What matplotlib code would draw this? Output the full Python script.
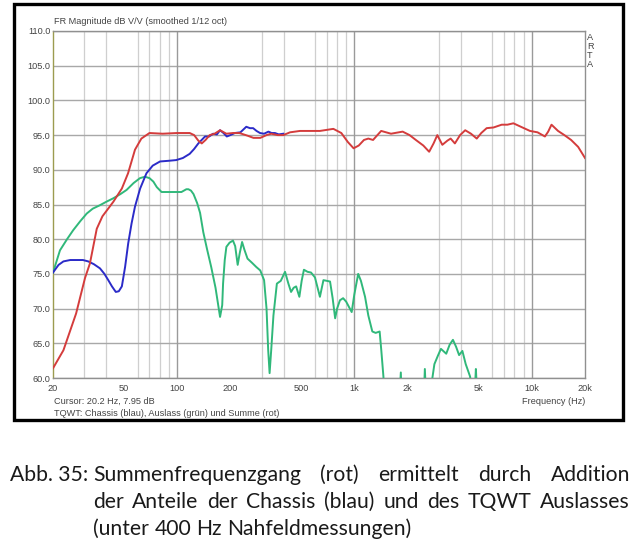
import numpy as np
import matplotlib
matplotlib.use("Agg")
import matplotlib.pyplot as plt
from matplotlib.patches import Rectangle
from matplotlib.ticker import FixedLocator, NullFormatter, FixedFormatter

# ---------------- data ----------------
sum_freq = [20, 22.9, 27, 30.3, 32.3, 35.3, 38, 43.8, 48.9, 53, 58, 63, 70, 83, 100, 118, 125, 132,
            138, 145, 153, 163, 175, 190, 207, 225, 251, 270, 295, 320, 340, 370, 398, 434, 494,
            560, 640, 762, 845, 920, 991, 1060, 1134, 1200, 1276, 1350, 1418, 1611, 1874, 2050,
            2224, 2450, 2644, 2800, 2939, 3137, 3350, 3494, 3692, 3950, 4222, 4550, 4905, 5200,
            5578, 6100, 6783, 7300, 7893, 8700, 9792, 10800, 11887, 12400, 12945, 14092, 15300,
            16700, 18300, 20000]
sum_db = [61.4, 64.0, 69.3, 74.4, 76.5, 81.5, 83.3, 85.4, 87.3, 89.5, 92.9, 94.5, 95.3, 95.2, 95.3,
          95.3, 95.0, 94.2, 93.8, 94.3, 95.0, 95.2, 95.7, 95.2, 95.3, 95.3, 94.9, 94.6, 94.6, 95.0,
          95.2, 95.0, 95.0, 95.4, 95.6, 95.6, 95.6, 95.9, 95.3, 94.0, 93.1, 93.5, 94.3, 94.5, 94.3,
          95.0, 95.6, 95.2, 95.5, 95.0, 94.3, 93.5, 92.6, 93.8, 95.0, 93.6, 94.2, 94.5, 93.8, 95.0,
          95.7, 95.2, 94.5, 95.3, 96.0, 96.1, 96.5, 96.5, 96.7, 96.2, 95.6, 95.4, 94.8, 95.5, 96.5,
          95.6, 95.0, 94.3, 93.3, 91.7]

chassis_freq = [20, 21.5, 22.9, 25, 27.2, 29.5, 31.6, 34, 36.8, 39, 41, 43, 45.2, 47, 48.9, 51, 53.1,
                55.5, 58, 62, 67.3, 73, 80.3, 90, 99, 108, 118, 125, 132, 144, 152, 160, 168, 175,
                183, 191, 200, 212, 228, 246, 258, 269, 281, 294, 310, 328, 342, 357, 375, 398]
chassis_db = [75.2, 76.3, 76.8, 77.0, 77.0, 77.0, 76.8, 76.4, 75.8, 75.0, 74.1, 73.2, 72.4, 72.5, 73.2,
              76.0, 79.4, 82.3, 84.7, 87.3, 89.5, 90.6, 91.2, 91.3, 91.4, 91.7, 92.3, 93.0, 93.8, 94.8,
              94.8, 95.2, 95.1, 95.7, 95.3, 94.8, 95.0, 95.3, 95.4, 96.2, 96.0, 96.0, 95.6, 95.3, 95.2,
              95.5, 95.3, 95.3, 95.1, 95.2]

port_freq = [20, 21.9, 24, 26, 28.5, 31, 33.5, 36.8, 40, 43.8, 48, 52, 57, 61.9, 66, 70, 73.6, 77,
             81.9, 90, 99, 106, 113, 116, 120, 124, 130, 135, 140.8, 148, 156, 165, 175, 180, 182,
             186, 190, 198, 207, 213, 220, 226, 233, 240, 250, 265, 280, 295, 310, 320, 327, 333,
             340, 350, 366, 385, 407, 425, 440, 455, 470, 490, 505, 520, 545, 570, 600, 640, 670,
             700, 730, 755, 780, 800, 830, 865, 900, 935, 967, 1000, 1052, 1090, 1150, 1200, 1264,
             1320, 1390, 1420, 1460, 1490, 1780, 1830, 1860, 2450, 2500, 2560, 2650, 2830, 2960,
             3080, 3300, 3450, 3600, 3750, 3900, 4070, 4250, 4500, 4650, 4800, 4850, 4920, 5000]
port_db = [75.2, 78.4, 80.0, 81.3, 82.6, 83.7, 84.4, 84.9, 85.4, 85.9, 86.5, 87.1, 88.1, 88.8, 89.0,
           88.8, 88.3, 87.5, 86.8, 86.8, 86.8, 86.8, 87.2, 87.2, 87.0, 86.5, 85.2, 83.8, 81.0, 78.5,
           76.0, 73.0, 68.8, 70.5, 73.6, 77.0, 78.9, 79.5, 79.8, 79.0, 76.3, 78.0, 79.6, 78.5, 77.2,
           76.6, 76.0, 75.5, 74.1, 70.0, 64.0, 60.7, 64.0, 69.0, 73.6, 74.0, 75.3, 73.6, 72.4, 73.0,
           73.2, 71.7, 74.0, 75.6, 75.3, 75.2, 74.5, 71.7, 74.1, 74.0, 73.9, 71.5, 68.6, 70.0, 71.2,
           71.5, 71.0, 70.2, 69.5, 72.0, 75.0, 74.0, 71.7, 69.0, 66.7, 66.5, 66.7, 64.0, 60.2, 55.0,
           55.0, 60.8, 55.0, 55.0, 61.3, 55.0, 57.0, 62.0, 63.2, 64.2, 63.5, 64.8, 65.5, 64.5, 63.3,
           63.9, 62.0, 60.2, 56.0, 59.0, 61.3, 58.0, 55.0]

x_label_ticks = [20, 50, 100, 200, 500, 1000, 2000, 5000, 10000, 20000]
x_label_text = ["20", "50", "100", "200", "500", "1k", "2k", "5k", "10k", "20k"]
decades = [100, 1000, 10000]
y_ticks = [60, 65, 70, 75, 80, 85, 90, 95, 100, 105, 110]

title_text = "FR Magnitude dB V/V (smoothed 1/12 oct)"
cursor_text = "Cursor: 20.2 Hz, 7.95 dB"
legend_text = "TQWT: Chassis (blau), Auslass (grün) und Summe (rot)"
xlabel_text = "Frequency (Hz)"
caption_label = "Abb. 35:"
caption_lines = ["Summenfrequenzgang (rot) ermittelt durch Addition",
                 "der Anteile der Chassis (blau) und des TQWT Auslasses",
                 "(unter 400 Hz Nahfeldmessungen)"]

# ---------------- figure ----------------
W, H = 640, 547
fig = plt.figure(figsize=(W / 100, H / 100), dpi=100)
fig.patch.set_facecolor("white")

def fx(px):
    return px / W

def fy(py):
    return 1 - py / H

# outer frame
fig.patches.append(Rectangle((fx(14), fy(420)), fx(623) - fx(14), fy(4) - fy(420),
                             transform=fig.transFigure, fill=False, edgecolor="black",
                             linewidth=2.4))

ax_l, ax_r, ax_t, ax_b = 53, 585, 31, 378
ax = fig.add_axes([fx(ax_l), fy(ax_b), fx(ax_r) - fx(ax_l), fy(ax_t) - fy(ax_b)])
ax.set_xscale("log")
ax.set_xlim(20, 20000)
ax.set_ylim(60, 110)

chart_font = "Liberation Sans"
cfs = 6.6

# grid
minor = [m * 10 ** e for e in range(1, 5) for m in range(1, 10) if 20 <= m * 10 ** e <= 20000]
ax.xaxis.set_minor_locator(FixedLocator(minor))
ax.xaxis.set_minor_formatter(NullFormatter())
ax.xaxis.set_major_locator(FixedLocator(x_label_ticks))
ax.xaxis.set_major_formatter(FixedFormatter(x_label_text))
ax.grid(True, which="minor", axis="x", color="#cfcfcf", linewidth=0.9)
ax.grid(False, which="major", axis="x")
for d in decades:
    ax.axvline(d, color="#9a9a9a", linewidth=1.0, zorder=0.6)
ax.set_yticks(y_ticks)
ax.set_yticklabels([f"{v:.1f}" for v in y_ticks])
ax.grid(True, which="major", axis="y", color="#a8a8a8", linewidth=1.0)
ax.set_axisbelow(True)

ax.tick_params(axis="both", which="both", length=0, labelsize=cfs, labelcolor="#444444")
ax.tick_params(axis="y", pad=2)
ax.tick_params(axis="x", pad=4)
for lab in ax.get_xticklabels() + ax.get_yticklabels():
    lab.set_family(chart_font)

for s in ["top", "right", "bottom"]:
    ax.spines[s].set_color("#909090")
    ax.spines[s].set_linewidth(1.0)
ax.spines["left"].set_color("#9c9c50")
ax.spines["left"].set_linewidth(1.0)

# curves
ax.plot(port_freq, port_db, color="#30b87a", linewidth=1.4, zorder=3)
ax.plot(chassis_freq, chassis_db, color="#2b2bc8", linewidth=1.4, zorder=4)
ax.plot(sum_freq, sum_db, color="#d43c3c", linewidth=1.4, zorder=5)

# chart texts
tc = "#444444"
tkw = dict(fontsize=cfs, color=tc, family=chart_font)
fig.text(fx(54), fy(24), title_text, ha="left", va="baseline", **tkw)
for i, ch in enumerate("ARTA"):
    fig.text(fx(590), fy(37 + i * 9.3), ch, ha="center", va="center", **tkw)
fig.text(fx(54), fy(404), cursor_text, ha="left", va="baseline", **tkw)
fig.text(fx(54), fy(416), legend_text, ha="left", va="baseline", **tkw)
fig.text(fx(585), fy(404), xlabel_text, ha="right", va="baseline", **tkw)

# caption (justified)
cap_font = dict(fontsize=15.2, family="Lato", color="#1a1a1a")
fig.canvas.draw()
renderer = fig.canvas.get_renderer()
fig.text(fx(10), fy(481), caption_label, ha="left", va="baseline", **cap_font)
x0, x1 = 93, 630
baselines = [481, 508, 535]
sp = fig.text(0, 0, "a a", **cap_font)
sp2 = fig.text(0, 0, "aa", **cap_font)
natural_gap = sp.get_window_extent(renderer).width - sp2.get_window_extent(renderer).width
sp.remove(); sp2.remove()
for li, (line, by) in enumerate(zip(caption_lines, baselines)):
    words = line.split(" ")
    objs = [fig.text(0, fy(by), w, ha="left", va="baseline", **cap_font) for w in words]
    widths = [o.get_window_extent(renderer).width for o in objs]
    if li < len(caption_lines) - 1:
        gap = (x1 - x0 - sum(widths)) / (len(words) - 1)
    else:
        gap = natural_gap
    x = x0
    for o, wdt in zip(objs, widths):
        o.set_x(fx(x))
        x += wdt + gap

fig.savefig("out.png", dpi=100, facecolor="white")
